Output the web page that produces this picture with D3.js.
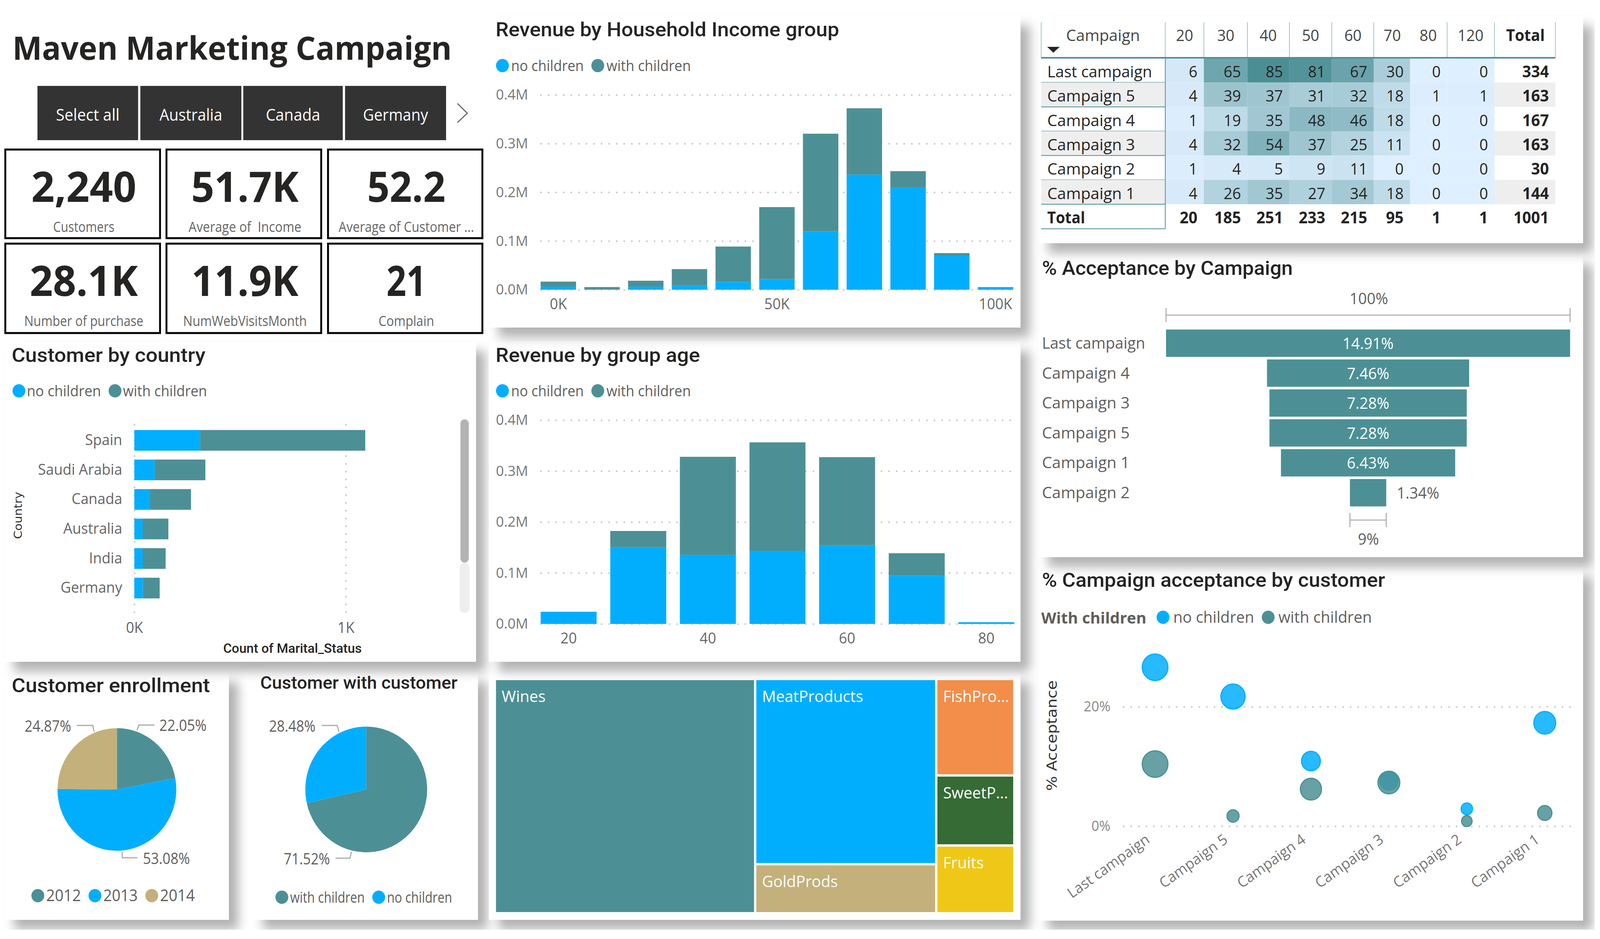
<!DOCTYPE html>
<html>
<head>
<meta charset="utf-8">
<title>Maven Marketing Campaign</title>
<script src="https://cdn.jsdelivr.net/npm/d3@7"></script>
<style>
	html, body { margin: 0; padding: 0; background: #fff; width: 100%; height: 100%; overflow: hidden; }
	svg { display: block; width: 100vw; height: 100vh; }
</style>
</head>
<body>
<!-- the browser may cap the window width, so the drawing always fills what it gets -->
<svg id="dash" viewBox="0 0 4229 2405" preserveAspectRatio="none"></svg>
<script>
// Data
const countryButtons = ["Select all", "Australia", "Canada", "Germany"];

const kpiValues = ["2,240", "51.7K", "52.2", "28.1K", "11.9K", "21"];
const kpiLabels = ["Customers", "Average of  Income", "Average of Customer ...", "Number of purchase", "NumWebVisitsMonth", "Complain"];

const incomeGroups = [0, 10000, 20000, 30000, 40000, 50000, 60000, 70000, 80000, 90000, 100000];
const incomeNoChildren = [6300, 900, 6300, 9000, 15700, 22000, 120000, 236200, 210100, 69700, 5400];
const incomeWithChildren = [10300, 4500, 12100, 33300, 72900, 147600, 200300, 136300, 33300, 5400, 0];

const ageGroups = [20, 30, 40, 50, 60, 70, 80];
const ageNoChildren = [23900, 150400, 135700, 143300, 154200, 94500, 3400];
const ageWithChildren = [0, 32000, 192300, 213000, 173100, 44200, 0];

const countries = ["Spain", "Saudi Arabia", "Canada", "Australia", "India", "Germany"];
const countryNoChildren = [311, 96, 74, 39, 39, 40];
const countryWithChildren = [781, 240, 194, 122, 109, 80];

const enrollYears = ["2012", "2013", "2014"];
const enrollShare = [22.05, 53.08, 24.87];
const childGroups = ["with children", "no children"];
const childShare = [71.52, 28.48];

const productNames = [["Wines"], ["MeatProducts", "GoldProds"], ["FishPro...", "SweetP...", "Fruits"]];
const productSpend = [[680000], [374000, 99000], [84000, 61000, 59000]];
const productColors = [["#4C9095"], ["#01AEFE", "#C3B07B"], ["#F28E4A", "#366B35", "#EFC817"]];

const matrixAges = ["20", "30", "40", "50", "60", "70", "80", "120"];
const matrixCampaigns = ["Last campaign", "Campaign 5", "Campaign 4", "Campaign 3", "Campaign 2", "Campaign 1"];
const matrixCounts = [
	[6, 65, 85, 81, 67, 30, 0, 0],
	[4, 39, 37, 31, 32, 18, 1, 1],
	[1, 19, 35, 48, 46, 18, 0, 0],
	[4, 32, 54, 37, 25, 11, 0, 0],
	[1, 4, 5, 9, 11, 0, 0, 0],
	[4, 26, 35, 27, 34, 18, 0, 0]
];
const matrixRowTotals = [334, 163, 167, 163, 30, 144];
const matrixColTotals = [20, 185, 251, 233, 215, 95, 1, 1];
const matrixGrandTotal = 1001;

const funnelCampaigns = ["Last campaign", "Campaign 4", "Campaign 3", "Campaign 5", "Campaign 1", "Campaign 2"];
const funnelAcceptance = [14.91, 7.46, 7.28, 7.28, 6.43, 1.34];

const scatterCampaigns = ["Last campaign", "Campaign 5", "Campaign 4", "Campaign 3", "Campaign 2", "Campaign 1"];
const scatterNoChildren = [26.6, 21.7, 10.9, 7.6, 2.9, 17.3];
const scatterWithChildren = [10.4, 1.7, 6.2, 7.3, 0.85, 2.2];
const scatterNoSize = [167, 148, 90, 83, 33, 121];
const scatterWithSize = [167, 37, 113, 121, 28, 52];

const BLUE = "#01AEFE", TEAL = "#4C9095", GOLD = "#C3B07B";
const bodyFont = "'Open Sans', sans-serif";
const titleFont = "Roboto, sans-serif";
const wideFont = "'DejaVu Sans', sans-serif";

const svg = d3.select("#dash");

// drop shadow for the panels
svg.append("defs").append("filter")
	.attr("id", "shadow")
	.attr("x", "-10%").attr("y", "-10%")
	.attr("width", "125%").attr("height", "125%")
	.append("feDropShadow")
	.attr("dx", 25).attr("dy", 25)
	.attr("stdDeviation", 14)
	.attr("flood-color", "#000")
	.attr("flood-opacity", 0.3);

function addText(g, x, y, s, o = {}) {
	const t = g.append("text")
		.attr("x", x).attr("y", y)
		.attr("font-family", o.font || bodyFont)
		.attr("font-size", o.size || 36)
		.attr("font-weight", o.weight || 400)
		.attr("fill", o.fill || "#605E5C")
		.attr("text-anchor", o.anchor || "start")
		.attr("xml:space", "preserve")
		.text(s);
	if (o.w) t.attr("textLength", o.w).attr("lengthAdjust", "spacingAndGlyphs");
	return t;
}

function addTitle(x, y, s, w, size) {
	addText(svg, x, y, s, {font: titleFont, size: size || 50, weight: 500, fill: "#252423", w: w});
}

function addLegend(labels, colors, widths, x, y, textGap, size) {
	var cx = x;
	labels.forEach((label, i) => {
		svg.append("circle").attr("cx", cx).attr("cy", y).attr("r", 17).attr("fill", colors[i]);
		addText(svg, cx + textGap, y + 14, label, {size: size || 38, w: widths[i]});
		cx += textGap + widths[i] + 37;
	});
}

function styleAxis(g, size, fill) {
	g.select(".domain").remove();
	g.selectAll("text")
		.attr("font-family", bodyFont)
		.attr("font-size", size)
		.attr("fill", fill);
}

function styleGrid(g) {
	g.selectAll(".tick line")
		.attr("stroke", "#c8c8c8")
		.attr("stroke-width", 4)
		.attr("stroke-dasharray", "4 16");
}

// panels: right column first, then bottom row upwards, so shadows fall on the neighbours
const panelRects = [
	[2745, 1452, 1439, 906], [2745, 652, 1439, 775], [2745, 41, 1439, 582],
	[12, 1722, 593, 634], [670, 1722, 593, 634], [1292, 1722, 1405, 634],
	[12, 874, 1246, 821], [1292, 874, 1405, 821],
	[1292, 40, 1405, 799]
];
svg.selectAll("rect.panel").data(panelRects).join("rect")
	.attr("class", "panel")
	.attr("x", d => d[0]).attr("y", d => d[1])
	.attr("width", d => d[2]).attr("height", d => d[3])
	.attr("fill", "#fff")
	.attr("filter", "url(#shadow)");

// the report page ends here, the shadows are cut off
svg.append("rect").attr("x", 0).attr("y", 2381).attr("width", 4229).attr("height", 24).attr("fill", "#fff");
svg.append("rect").attr("x", 4215).attr("y", 0).attr("width", 14).attr("height", 2405).attr("fill", "#fff");

// heading, slicer and cards
addText(svg, 33, 153, "Maven Marketing Campaign", {size: 82, weight: 700, fill: "#252423", w: 1161});

const buttonX = [[99, 365], [371, 638], [643, 906], [912, 1179]];
const buttonTextW = [168, 166, 144, 172];
countryButtons.forEach((name, i) => {
	svg.append("rect")
		.attr("x", buttonX[i][0]).attr("y", 220)
		.attr("width", buttonX[i][1] - buttonX[i][0]).attr("height", 139)
		.attr("fill", "#333333");
	addText(svg, (buttonX[i][0] + buttonX[i][1]) / 2, 309, name, {size: 42, fill: "#fff", anchor: "middle", w: buttonTextW[i]});
});
svg.append("path")
	.attr("d", d3.line()([[1209, 265], [1235, 290], [1209, 314]]))
	.attr("fill", "none").attr("stroke", "#666").attr("stroke-width", 3);

const cardX = [[14, 423], [440, 849], [867, 1275]];
const cardY = [[383, 610], [624, 853]];
const kpiLabelW = [162, 298, 358, 315, 327, 147];
const kpiValueW = [278, 284, 207, 286, 283, 105];
kpiValues.forEach((value, i) => {
	const col = cardX[i % 3], row = cardY[Math.floor(i / 3)];
	svg.append("rect")
		.attr("x", col[0]).attr("y", row[0])
		.attr("width", col[1] - col[0]).attr("height", row[1] - row[0])
		.attr("fill", "#fff").attr("stroke", "#000").attr("stroke-width", 5);
	const mid = (col[0] + col[1]) / 2 + 3;
	addText(svg, mid, row[0] + 134, value, {size: 108, weight: 700, fill: "#252423", anchor: "middle", w: kpiValueW[i]});
	addText(svg, mid, row[0] + 211, kpiLabels[i], {size: 36, fill: "#666", anchor: "middle", w: kpiLabelW[i]});
});

// stacked columns shared by the income and age panels
function stackedColumns(groups, noChildren, withChildren, o) {
	const rows = groups.map((g, i) => ({group: g, no: noChildren[i], with: withChildren[i]}));
	const x = d3.scaleBand().domain(groups).range(o.xRange).paddingInner(o.padding);
	const y = d3.scaleLinear().domain([0, 400000]).range(o.yRange);

	const yAxis = svg.append("g")
		.attr("transform", `translate(${o.gridX[0]},0)`)
		.call(d3.axisLeft(y).tickValues([0, 100000, 200000, 300000, 400000])
			.tickSize(-(o.gridX[1] - o.gridX[0])).tickPadding(32)
			.tickFormat(d => (d / 1000000).toFixed(1) + "M"));
	styleAxis(yAxis, 37, "#777");
	styleGrid(yAxis);

	const layers = d3.stack().keys(["no", "with"])(rows);
	svg.append("g").selectAll("g").data(layers).join("g")
		.attr("fill", d => d.key == "no" ? BLUE : TEAL)
		.selectAll("rect").data(d => d).join("rect")
		.attr("x", d => x(d.data.group))
		.attr("y", d => y(d[1]))
		.attr("width", x.bandwidth())
		.attr("height", d => y(d[0]) - y(d[1]));

	const xAxis = svg.append("g")
		.attr("transform", `translate(0,${o.yRange[0]})`)
		.call(d3.axisBottom(x).tickValues(o.ticks).tickSize(0).tickPadding(23).tickFormat(o.format));
	styleAxis(xAxis, 38, "#666");
}

addTitle(1310, 93, "Revenue by Household Income group", 908);
addLegend(["no children", "with children"], [BLUE, TEAL], [192, 223], 1328, 168, 23);
stackedColumns(incomeGroups, incomeNoChildren, incomeWithChildren, {
	xRange: [1429, 2678], yRange: [742, 243], padding: 0.19, gridX: [1428, 2674],
	ticks: [0, 50000, 100000], format: d => (d / 1000) + "K"
});

addTitle(1310, 927, "Revenue by group age", 540);
addLegend(["no children", "with children"], [BLUE, TEAL], [192, 223], 1328, 1001, 23);
stackedColumns(ageGroups, ageNoChildren, ageWithChildren, {
	xRange: [1429, 2681], yRange: [1598, 1076], padding: 0.196, gridX: [1428, 2674],
	ticks: [20, 40, 60, 80], format: d => d
});

// customer by country
addTitle(31, 927, "Customer by country", 512);
addLegend(["no children", "with children"], [BLUE, TEAL], [196, 222], 50, 1001, 21);

const countryX = d3.scaleLinear().domain([0, 1000]).range([355, 914]);
const countryY = d3.scaleBand().domain(countries).range([1090, 1544]).paddingInner(0.3).paddingOuter(0.15);

const countryXAxis = svg.append("g")
	.attr("transform", "translate(0,1570)")
	.call(d3.axisBottom(countryX).tickValues([0, 1000]).tickSize(-493).tickPadding(24).tickFormat(d => (d / 1000) + "K"));
styleAxis(countryXAxis, 38, "#666");
styleGrid(countryXAxis);

const countryRows = countries.map((c, i) => ({country: c, no: countryNoChildren[i], with: countryWithChildren[i]}));
svg.append("g").selectAll("g").data(d3.stack().keys(["no", "with"])(countryRows)).join("g")
	.attr("fill", d => d.key == "no" ? BLUE : TEAL)
	.selectAll("rect").data(d => d).join("rect")
	.attr("x", d => countryX(d[0]))
	.attr("y", d => countryY(d.data.country))
	.attr("width", d => countryX(d[1]) - countryX(d[0]))
	.attr("height", countryY.bandwidth());

const countryYAxis = svg.append("g")
	.attr("transform", "translate(355,0)")
	.call(d3.axisLeft(countryY).tickSize(0).tickPadding(32));
styleAxis(countryYAxis, 38, "#666");

addText(svg, 0, 0, "Country", {font: wideFont, size: 30, fill: "#333", anchor: "middle", w: 121})
	.attr("transform", "translate(58,1320) rotate(-90)");
addText(svg, 590, 1672, "Count of Marital_Status", {font: titleFont, size: 34, weight: 500, fill: "#252423", w: 366});

// scrollbar
svg.append("rect").attr("x", 1215).attr("y", 1441).attr("width", 26).attr("height", 129).attr("rx", 13).attr("fill", "#eee");
svg.append("rect").attr("x", 1217).attr("y", 1074).attr("width", 22).attr("height", 367).attr("rx", 11).attr("fill", "#b3b3b3");

// pies
function drawPie(values, colors, cx, cy, r) {
	const arcs = d3.pie().sort(null)(values);
	svg.append("g")
		.attr("transform", `translate(${cx},${cy})`)
		.selectAll("path").data(arcs).join("path")
		.attr("d", d3.arc().innerRadius(0).outerRadius(r))
		.attr("fill", (d, i) => colors[i]);
}

function addLeader(points) {
	svg.append("path").attr("d", d3.line()(points))
		.attr("fill", "none").attr("stroke", "#aaa").attr("stroke-width", 3);
}

addTitle(31, 1773, "Customer enrollment", 524);
drawPie(enrollShare, [TEAL, BLUE, GOLD], 309, 2022, 157);
addLeader([[362, 1871], [367, 1857], [408, 1857]]);
addLeader([[203, 1858], [245, 1858], [249, 1874]]);
addLeader([[323, 2182], [323, 2197], [363, 2197]]);
addText(svg, 421, 1872, enrollShare[0].toFixed(2) + "%", {size: 40, w: 125});
addText(svg, 378, 2213, enrollShare[1].toFixed(2) + "%", {size: 40, w: 124});
addText(svg, 65, 1874, enrollShare[2].toFixed(2) + "%", {size: 40, w: 123});
addLegend(enrollYears, [TEAL, BLUE, GOLD], [92, 91, 92], 100, 2294, 22, 42);

addTitle(688, 1764, "Customer with customer", 521, 44);
drawPie(childShare, [TEAL, BLUE], 968, 2022, 161);
addLeader([[850, 1858], [891, 1858], [896, 1874]]);
addLeader([[887, 2198], [925, 2198], [929, 2182]]);
addText(svg, 711, 1874, childShare[1].toFixed(2) + "%", {size: 40, w: 123});
addText(svg, 750, 2214, childShare[0].toFixed(2) + "%", {size: 40, w: 122});
addLegend(childGroups, [TEAL, BLUE], [197, 172], 745, 2298, 22);

// treemap, columns first then the blocks inside each column
const productTree = d3.hierarchy({
	children: productNames.map((col, i) => ({
		children: col.map((name, j) => ({name: name, value: productSpend[i][j], color: productColors[i][j]}))
	}))
}).sum(d => d.value || 0);

d3.treemap()
	.tile(d3.treemapSliceDice)
	.size([1367, 594])
	.paddingInner(6)(productTree);

const productCells = svg.append("g")
	.attr("transform", "translate(1311,1742)")
	.selectAll("g").data(productTree.leaves()).join("g")
	.attr("transform", d => `translate(${d.x0},${d.y0})`);
productCells.append("rect")
	.attr("width", d => d.x1 - d.x0)
	.attr("height", d => d.y1 - d.y0)
	.attr("fill", d => d.data.color);
productCells.each(function(d) {
	addText(d3.select(this), 15, 56, d.data.name, {size: 41, fill: "#fff"});
});

// matrix
const matrixEdges = [3080, 3182, 3297, 3408, 3520, 3631, 3727, 3825, 3950, 4111];
const matrixLeft = 2752;
const matrixRowY = d3.scaleBand().domain(matrixCampaigns).range([149, 523]);
const heat = d3.scaleLinear().domain([0, 85]).range(["#DEEFFF", "#4B8F94"]);

matrixCampaigns.forEach((name, r) => {
	const y0 = matrixRowY(name), h = matrixRowY.bandwidth(), base = y0 + 49;
	if (r % 2 == 1) {
		svg.append("rect").attr("x", matrixLeft).attr("y", y0).attr("width", matrixEdges[0] - matrixLeft).attr("height", h).attr("fill", "#eee");
		svg.append("rect").attr("x", matrixEdges[8]).attr("y", y0).attr("width", matrixEdges[9] - matrixEdges[8]).attr("height", h).attr("fill", "#eee");
	}
	matrixCounts[r].forEach((v, c) => {
		svg.append("rect")
			.attr("x", matrixEdges[c]).attr("y", y0)
			.attr("width", matrixEdges[c + 1] - matrixEdges[c]).attr("height", h)
			.attr("fill", heat(v));
		addText(svg, matrixEdges[c + 1] - 17, base, v, {size: 40, fill: "#252423", anchor: "end"});
	});
	addText(svg, 2768, base, name, {size: 40, fill: "#252423", w: name == "Last campaign" ? 277 : 232});
	addText(svg, 4094, base, matrixRowTotals[r], {size: 41, weight: 700, fill: "#252423", anchor: "end"});
	svg.append("line")
		.attr("x1", matrixLeft).attr("x2", matrixEdges[0])
		.attr("y1", y0 + h).attr("y2", y0 + h)
		.attr("stroke", TEAL).attr("stroke-width", 2);
});
addText(svg, 2768, 572, "Total", {size: 41, weight: 700, fill: "#252423", w: 100});
matrixColTotals.forEach((v, c) => {
	addText(svg, matrixEdges[c + 1] - 17, 572, v, {size: 41, weight: 700, fill: "#252423", anchor: "end"});
});
addText(svg, 4094, 572, matrixGrandTotal, {size: 41, weight: 700, fill: "#252423", anchor: "end"});

// matrix header and rules
addText(svg, 2818, 105, "Campaign", {size: 40, fill: "#444", w: 195});
svg.append("path").attr("d", d3.line()([[2768, 120], [2801, 120], [2784, 135]])).attr("fill", "#252423");
matrixAges.forEach((age, c) => {
	const centers = [3131, 3240, 3352, 3464, 3576, 3680, 3775, 3887];
	addText(svg, centers[c], 105, age, {size: 40, fill: "#444", anchor: "middle"});
});
addText(svg, 4032, 105, "Total", {size: 41, weight: 700, fill: "#252423", anchor: "middle", w: 102});
[matrixLeft].concat(matrixEdges).filter(x => x != 3727).forEach(x => {
	svg.append("line").attr("x1", x).attr("x2", x).attr("y1", 57).attr("y2", 147)
		.attr("stroke", TEAL).attr("stroke-width", 1);
});
svg.append("rect").attr("x", matrixLeft).attr("y", 146).attr("width", 4111 - matrixLeft).attr("height", 4).attr("fill", TEAL);
svg.append("line").attr("x1", 3080).attr("x2", 3080).attr("y1", 149).attr("y2", 586).attr("stroke", TEAL).attr("stroke-width", 2);
svg.append("line").attr("x1", matrixLeft).attr("x2", 3080).attr("y1", 586).attr("y2", 586).attr("stroke", TEAL).attr("stroke-width", 2);

// funnel
addTitle(2754, 704, "% Acceptance by Campaign", 663);
const funnelMid = 3616;
const funnelW = d3.scaleLinear().domain([0, 14.91]).range([0, 1068]);
const funnelY = d3.scaleBand().domain(funnelCampaigns).range([844, 1297]).paddingInner(0.086);

funnelCampaigns.forEach((name, i) => {
	const w = funnelW(funnelAcceptance[i]), y0 = funnelY(name), label = funnelAcceptance[i].toFixed(2) + "%";
	svg.append("rect")
		.attr("x", funnelMid - w / 2).attr("y", y0)
		.attr("width", w).attr("height", funnelY.bandwidth())
		.attr("fill", TEAL);
	addText(svg, 2754, y0 + 49, name, {size: 40, w: name == "Last campaign" ? 273 : 232});
	if (w > 200) {
		addText(svg, funnelMid, y0 + 50, label, {size: 40, fill: "#fff", anchor: "middle"});
	} else {
		addText(svg, funnelMid + w / 2 + 28, y0 + 50, label, {size: 40});
	}
});

function addBracket(w, y) {
	const x0 = funnelMid - w / 2, x1 = funnelMid + w / 2;
	svg.append("path")
		.attr("d", d3.line()([[x0, y - 18], [x0, y + 18]]) + d3.line()([[x0, y], [x1, y]]) + d3.line()([[x1, y - 18], [x1, y + 18]]))
		.attr("fill", "none").attr("stroke", "#b3b3b3").attr("stroke-width", 3);
}
addBracket(funnelW(funnelAcceptance[0]), 807);
addBracket(funnelW(funnelAcceptance[5]), 1332);
addText(svg, funnelMid + 2, 779, "100%", {size: 40, anchor: "middle"});
addText(svg, funnelMid + 1, 1395, "9%", {size: 40, anchor: "middle"});

// bubble chart
addTitle(2754, 1503, "% Campaign acceptance by customer", 907);
addText(svg, 2752, 1597, "With children", {size: 40, weight: 700, w: 278});
addLegend(["no children", "with children"], [BLUE, TEAL], [214, 247], 3074, 1581, 27, 41);

const scatterX = d3.scalePoint().domain(scatterCampaigns).range([3053, 4083]);
const scatterY = d3.scaleLinear().domain([0, 20]).range([2116, 1810]);
const bubbleR = d3.scaleSqrt().domain([0, 167]).range([0, 34]);

const scatterYAxis = svg.append("g")
	.attr("transform", "translate(2968,0)")
	.call(d3.axisLeft(scatterY).tickValues([0, 20]).tickSize(-1187).tickPadding(33).tickFormat(d => d + "%"));
styleAxis(scatterYAxis, 36, "#888");
styleGrid(scatterYAxis);

const scatterXAxis = svg.append("g")
	.attr("transform", "translate(0,2116)")
	.call(d3.axisBottom(scatterX).tickSize(0));
styleAxis(scatterXAxis, 38, "#777");
scatterXAxis.selectAll("text")
	.attr("text-anchor", "end")
	.attr("x", 0).attr("y", 0).attr("dy", 0)
	.attr("transform", "translate(-12,40) rotate(-35)");

function addBubbles(values, sizes, color) {
	svg.append("g").selectAll("circle").data(scatterCampaigns).join("circle")
		.attr("cx", d => scatterX(d))
		.attr("cy", (d, i) => scatterY(values[i]))
		.attr("r", (d, i) => bubbleR(sizes[i]))
		.attr("fill", color).attr("fill-opacity", 0.85)
		.attr("stroke", color).attr("stroke-width", 3);
}
addBubbles(scatterNoChildren, scatterNoSize, BLUE);
addBubbles(scatterWithChildren, scatterWithSize, TEAL);

addText(svg, 0, 0, "% Acceptance", {font: wideFont, size: 36, fill: "#333", anchor: "middle", w: 283})
	.attr("transform", "translate(2793,1884) rotate(-90)");
</script>
</body>
</html>
